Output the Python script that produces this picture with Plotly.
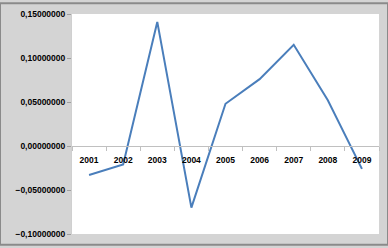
import plotly.graph_objects as go

years = ["2001", "2002", "2003", "2004", "2005", "2006", "2007", "2008", "2009"]
values = [-0.033, -0.021, 0.141, -0.070, 0.048, 0.076, 0.115, 0.052, -0.026]
y_ticks = [-0.10, -0.05, 0.0, 0.05, 0.10, 0.15]

fig = go.Figure()
fig.add_trace(go.Scatter(
    x=years, y=values, mode="lines",
    line=dict(color="#4a7ebb", width=2),
    hoverinfo="skip",
))

tick_font = dict(family="Liberation Sans, Arial, sans-serif", size=8.5, color="#000000", weight="bold")

fig.update_layout(
    width=388, height=248,
    margin=dict(l=72, r=9, t=11, b=11),
    paper_bgcolor="#d4d4d4",
    plot_bgcolor="#ffffff",
    showlegend=False,
    separators=",.",
    xaxis=dict(
        type="category",
        anchor="free",
        position=0.4,
        showline=True, linecolor="#c0c0c0", linewidth=1,
        ticks="outside", ticklen=4, tickcolor="#c0c0c0",
        tickson="boundaries",
        ticklabelstandoff=6,
        showgrid=False, zeroline=False,
        tickfont=tick_font,
        range=[-0.5, 8.5],
    ),
    yaxis=dict(
        range=[-0.10, 0.15],
        tickvals=y_ticks,
        tickformat=".8f",
        showline=True, linecolor="#d0d0d0", linewidth=1,
        ticks="outside", ticklen=4, tickcolor="#a0a0a0",
        showgrid=False, zeroline=False,
        tickfont=tick_font,
    ),
    shapes=[dict(type="rect", xref="paper", yref="paper",
                 x0=-72/307, x1=1+9/307, y0=-11/226, y1=1+11/226,
                 line=dict(color="#8a8a8a", width=2), layer="above")],
)

fig.write_html("out.html")
